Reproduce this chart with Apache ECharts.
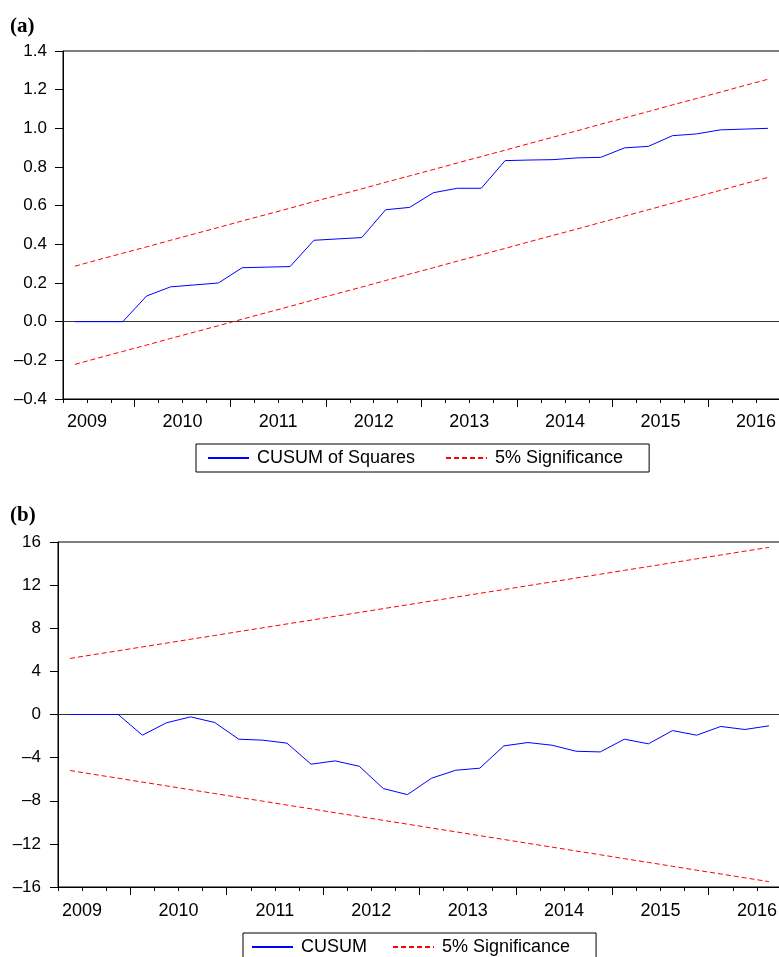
<!DOCTYPE html>
<html>
<head>
<meta charset="utf-8">
<title>CUSUM and CUSUM of Squares tests</title>
<script src="https://cdn.jsdelivr.net/npm/echarts@6/dist/echarts.min.js"></script>
<style>
  html, body { margin: 0; padding: 0; background: #fff; }
  #chart { width: 779px; height: 957px; }
</style>
</head>
<body>
<div id="chart"></div>
<script>
// Quarterly observations, 2009Q2 .. 2016Q3
const quarters = [
  '2009Q2','2009Q3','2009Q4',
  '2010Q1','2010Q2','2010Q3','2010Q4',
  '2011Q1','2011Q2','2011Q3','2011Q4',
  '2012Q1','2012Q2','2012Q3','2012Q4',
  '2013Q1','2013Q2','2013Q3','2013Q4',
  '2014Q1','2014Q2','2014Q3','2014Q4',
  '2015Q1','2015Q2','2015Q3','2015Q4',
  '2016Q1','2016Q2','2016Q3'
];
const yearLabels = ['2009','2010','2011','2012','2013','2014','2015','2016'];

// (a) CUSUM of squares with 5% bounds
const cusumSq = [0, 0, 0, 0.133, 0.180, 0.190, 0.200, 0.279, 0.282, 0.285,
  0.421, 0.428, 0.435, 0.579, 0.591, 0.667, 0.690, 0.690, 0.833, 0.836,
  0.838, 0.847, 0.850, 0.899, 0.907, 0.962, 0.971, 0.992, 0.996, 1.000];
const cusumSqUpper = [0.287, 0.321, 0.354, 0.387, 0.421, 0.454, 0.487, 0.521, 0.554, 0.587,
  0.621, 0.654, 0.687, 0.721, 0.754, 0.787, 0.821, 0.854, 0.887, 0.921,
  0.954, 0.987, 1.021, 1.054, 1.087, 1.121, 1.154, 1.187, 1.221, 1.254];
const cusumSqLower = [-0.221, -0.187, -0.154, -0.121, -0.087, -0.054, -0.021, 0.013, 0.046, 0.079,
  0.113, 0.146, 0.179, 0.213, 0.246, 0.279, 0.313, 0.346, 0.379, 0.413,
  0.446, 0.479, 0.513, 0.546, 0.579, 0.613, 0.646, 0.679, 0.713, 0.746];

// (b) CUSUM with 5% bounds
const cusum = [0, 0, 0, -1.92, -0.77, -0.22, -0.74, -2.29, -2.38, -2.66,
  -4.61, -4.30, -4.80, -6.87, -7.43, -5.91, -5.17, -4.98, -2.91, -2.60,
  -2.85, -3.41, -3.47, -2.29, -2.72, -1.49, -1.92, -1.11, -1.39, -1.05];
const cusumUpper = [5.20, 5.56, 5.91, 6.27, 6.62, 6.98, 7.33, 7.69, 8.04, 8.40,
  8.75, 9.11, 9.46, 9.82, 10.17, 10.53, 10.88, 11.24, 11.59, 11.95,
  12.30, 12.66, 13.01, 13.37, 13.72, 14.08, 14.44, 14.79, 15.15, 15.50];
const cusumLower = [-5.20, -5.56, -5.91, -6.27, -6.62, -6.98, -7.33, -7.69, -8.04, -8.40,
  -8.75, -9.11, -9.46, -9.82, -10.17, -10.53, -10.88, -11.24, -11.59, -11.95,
  -12.30, -12.66, -13.01, -13.37, -13.72, -14.08, -14.44, -14.79, -15.15, -15.50];

const FONT = '"Liberation Sans", Arial, Helvetica, sans-serif';
const BLUE = '#0000ff';
const RED = '#ff0000';

// Period boundaries: one tick per quarter edge, year label at mid-year,
// longer tick at the start of each year.
const boundaries = quarters.concat(['end']);
const boundaryLabel = (k) => {
  const q = quarters[k];
  if (!q || !q.endsWith('Q3')) return '';
  const y = q.slice(0, 4);
  return yearLabels.includes(y) ? y : '';
};
const isYearStart = (k) => !!quarters[k] && quarters[k].endsWith('Q1');

function xAxesFor(gridIndex, labelMargin) {
  return [
    { // data axis: one slot per quarter
      type: 'category', gridIndex, position: 'bottom', offset: 0,
      data: quarters, boundaryGap: true,
      axisLine: { show: false }, axisTick: { show: false }, axisLabel: { show: false },
      splitLine: { show: false }
    },
    { // quarter-edge ticks and year labels
      type: 'category', gridIndex, position: 'bottom', offset: 0,
      data: boundaries, boundaryGap: false,
      axisLine: { show: true, lineStyle: { color: '#000', width: 1 } },
      axisTick: { show: true, interval: 0, length: 4, inside: false, lineStyle: { color: '#000', width: 1 } },
      axisLabel: {
        show: true, interval: 0, margin: labelMargin, color: '#000',
        fontFamily: FONT, fontSize: 18,
        formatter: (v, k) => boundaryLabel(k)
      },
      splitLine: { show: false }
    },
    { // longer ticks at year starts
      type: 'category', gridIndex, position: 'bottom', offset: 0,
      data: boundaries, boundaryGap: false,
      axisLine: { show: false },
      axisTick: { show: true, interval: (k) => isYearStart(k), length: 8, lineStyle: { color: '#000', width: 1 } },
      axisLabel: { show: false },
      splitLine: { show: false }
    }
  ];
}

const signed = (s, neg) => (neg ? '\u2013' : '') + s;

// horizontal reference line at zero, kept beneath the data lines
const zeroLine = {
  silent: true, z: 1, symbol: ['none', 'none'],
  label: { show: false },
  lineStyle: { color: '#333', width: 1.2, type: 'solid' },
  emphasis: { disabled: true },
  data: [{ yAxis: 0 }]
};

const lineSeries = (name, xi, yi, data, color, dashed, extra) => Object.assign({
  name, type: 'line', xAxisIndex: xi, yAxisIndex: yi, data,
  symbol: 'none', showSymbol: false, smooth: false, animation: false,
  lineStyle: { color, width: 1, type: dashed ? [5, 3] : 'solid' },
  itemStyle: { color },
  emphasis: { disabled: true },
  z: 2
}, extra || {});

const yAxisBase = (gridIndex, min, max, interval, fmt, margin) => ({
  type: 'value', gridIndex, min, max, interval,
  axisLine: { show: true, lineStyle: { color: '#000', width: 1 } },
  axisTick: { show: true, length: 8, inside: false, lineStyle: { color: '#000', width: 1 } },
  axisLabel: { margin, color: '#000', fontFamily: FONT, fontSize: 17, formatter: fmt },
  splitLine: { show: false }
});

const legendBase = {
  orient: 'horizontal', itemWidth: 41, itemHeight: 14,
  borderColor: '#000', borderWidth: 1, backgroundColor: '#fff',
  selectedMode: false,
  textStyle: { color: '#000', fontFamily: FONT, fontSize: 18, padding: [0, 0, 0, 3] },
  // line-only keys: hide the marker drawn in the middle of each key
  itemStyle: { color: 'rgba(0,0,0,0)', borderColor: 'rgba(0,0,0,0)', borderWidth: 0, opacity: 0 }
};

const chart = echarts.init(document.getElementById('chart'), null, { renderer: 'canvas' });
chart.setOption({
  animation: false,
  backgroundColor: '#fff',
  textStyle: { fontFamily: FONT },
  graphic: [
    { type: 'text', left: 10, top: 16, style: { text: '(a)', fill: '#000', font: 'bold 21px "Liberation Serif", "Times New Roman", serif' } },
    { type: 'text', left: 10, top: 505, style: { text: '(b)', fill: '#000', font: 'bold 21px "Liberation Serif", "Times New Roman", serif' } }
  ],
  grid: [
    { left: 63, top: 51, width: 717, height: 348, show: true, borderColor: '#000', borderWidth: 1, backgroundColor: 'transparent', outerBoundsMode: 'none' },
    { left: 58, top: 542, width: 723, height: 345, show: true, borderColor: '#000', borderWidth: 1, backgroundColor: 'transparent', outerBoundsMode: 'none' }
  ],
  xAxis: xAxesFor(0, 14).concat(xAxesFor(1, 15)),
  yAxis: [
    yAxisBase(0, -0.4, 1.4, 0.2, (v) => signed(Math.abs(v).toFixed(1), v < -1e-9), 16),
    yAxisBase(1, -16, 16, 4, (v) => signed(String(Math.abs(Math.round(v))), v < 0), 17)
  ],
  legend: [
    Object.assign({}, legendBase, {
      data: ['CUSUM of Squares', '5% Significance'],
      left: 196, top: 444, padding: [5, 26, 5, 11], itemGap: 30
    }),
    Object.assign({}, legendBase, {
      data: ['CUSUM', '5% Significance'],
      left: 243, top: 933, padding: [5, 26, 5, 8], itemGap: 25
    })
  ],
  series: [
    lineSeries('CUSUM of Squares', 0, 0, cusumSq, BLUE, false, { z: 10 }),
    lineSeries('5% Significance', 0, 0, cusumSqUpper, RED, true, { markLine: zeroLine }),
    lineSeries('5% Significance', 0, 0, cusumSqLower, RED, true),
    lineSeries('CUSUM', 3, 1, cusum, BLUE, false, { z: 10 }),
    lineSeries('5% Significance', 3, 1, cusumUpper, RED, true, { markLine: zeroLine }),
    lineSeries('5% Significance', 3, 1, cusumLower, RED, true)
  ]
});
</script>
</body>
</html>
